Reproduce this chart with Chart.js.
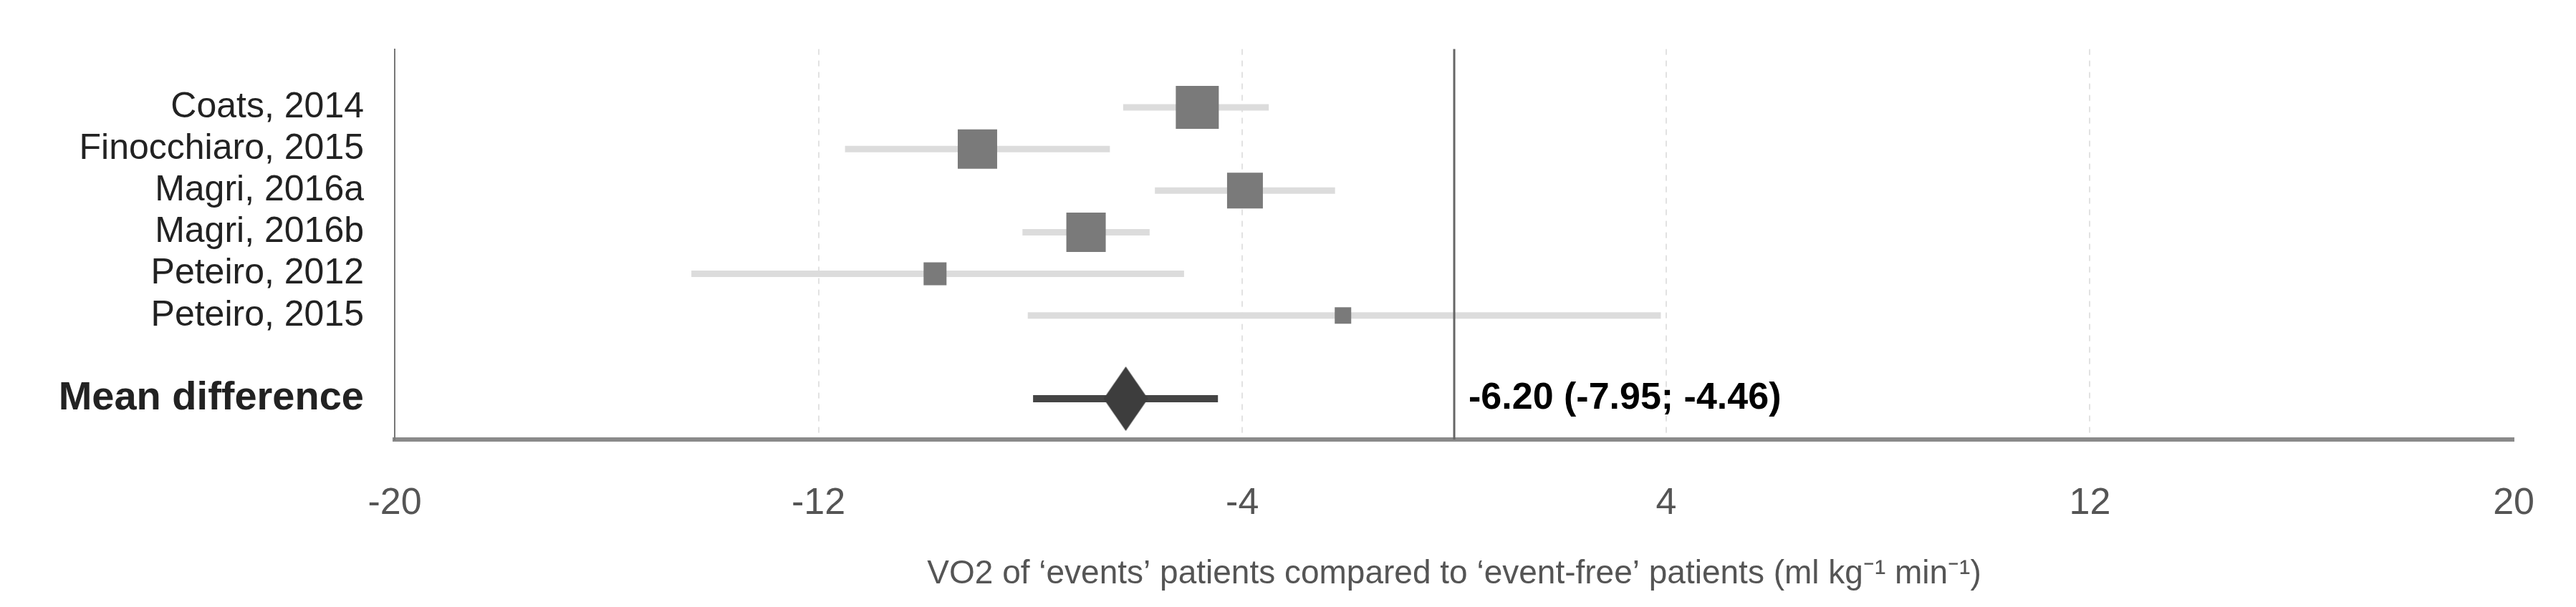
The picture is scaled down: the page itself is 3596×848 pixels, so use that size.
<!DOCTYPE html>
<html>
<head>
  <script src="https://cdn.jsdelivr.net/npm/chart.js@4"></script>
  <style>
    body { margin: 0; background: #fff; }
    #wrap { width: 3596px; height: 848px; }
  </style>
</head>
<body>
  <div id="wrap"><canvas id="forest"></canvas></div>
  <script>
    // study data (ml/kg/min)
    const studies = ['Coats, 2014', 'Finocchiaro, 2015', 'Magri, 2016a', 'Magri, 2016b', 'Peteiro, 2012', 'Peteiro, 2015'];
    const estimates = [-4.85, -9.0, -3.95, -6.95, -9.8, -2.1];
    const lower = [-6.25, -11.5, -5.65, -8.15, -14.4, -8.05];
    const upper = [-3.5, -6.5, -2.25, -5.75, -5.1, 3.9];
    const weights = [60, 55, 50, 55, 32, 23];
    const meanLabel = 'Mean difference';
    const meanValue = [-6.20, -7.95, -4.46];
    const xTicks = [-20, -12, -4, 4, 12, 20];
    const meanRow = 7;

    const datasets = [];
    studies.forEach((s, i) => {
      datasets.push({
        data: [{ x: lower[i], y: i }, { x: upper[i], y: i }],
        showLine: true, borderColor: '#dcdcdc', borderWidth: 9,
        pointRadius: 0, order: 2
      });
    });
    datasets.push({
      data: studies.map((s, i) => ({ x: estimates[i], y: i })),
      pointStyle: 'rect',
      pointRadius: weights.map(w => w / Math.SQRT2),
      backgroundColor: '#7a7a7a', borderWidth: 0, order: 1
    });
    datasets.push({
      data: [{ x: meanValue[1], y: meanRow }, { x: meanValue[2], y: meanRow }],
      showLine: true, borderColor: '#444', borderWidth: 10, pointRadius: 0, order: 2
    });

    // diamond marker
    const dia = document.createElement('canvas');
    dia.width = 62; dia.height = 90;
    const dc = dia.getContext('2d');
    dc.fillStyle = '#3d3d3d';
    dc.beginPath(); dc.moveTo(31, 0); dc.lineTo(62, 45); dc.lineTo(31, 90); dc.lineTo(0, 45); dc.closePath(); dc.fill();
    datasets.push({
      data: [{ x: meanValue[0], y: meanRow }],
      pointStyle: dia, pointRadius: 31, order: 0
    });

    const extras = {
      id: 'extras',
      afterDatasetsDraw(chart) {
        const { ctx, chartArea, scales } = chart;
        const x0 = scales.x.getPixelForValue(0);
        ctx.save();
        ctx.strokeStyle = '#666'; ctx.lineWidth = 3;
        ctx.beginPath(); ctx.moveTo(x0, chartArea.top); ctx.lineTo(x0, chartArea.bottom); ctx.stroke();
        ctx.fillStyle = '#000';
        ctx.font = 'bold 52px "Liberation Sans", Arial, sans-serif';
        ctx.textBaseline = 'middle';
        ctx.fillText(meanValue[0].toFixed(2) + ' (' + meanValue[1].toFixed(2) + '; ' + meanValue[2].toFixed(2) + ')',
          x0 + 20, scales.y.getPixelForValue(meanRow));
        ctx.restore();
      }
    };

    new Chart(document.getElementById('forest'), {
      type: 'scatter',
      data: { datasets },
      plugins: [extras],
      options: {
        responsive: true, maintainAspectRatio: false, animation: false,
        layout: { padding: { top: 0, right: 57, left: 0, bottom: 0 } },
        plugins: { legend: { display: false }, tooltip: { enabled: false } },
        scales: {
          x: {
            min: -20, max: 20,
            afterBuildTicks: s => { s.ticks = xTicks.map(v => ({ value: v })); },
            afterFit: s => { s.height = 234; },
            grid: {
              drawTicks: false,
              color: c => (c.tick && (c.tick.value === -20 || c.tick.value === 20)) ? 'rgba(0,0,0,0)' : '#e2e2e2',
              lineWidth: 2
            },
            border: { display: true, color: '#8a8a8a', width: 6, dash: [8, 8] },
            ticks: { color: '#555', padding: 58, font: { size: 52, family: '"Liberation Sans", Arial' } },
            title: {
              display: true, color: '#555', padding: { top: 36, bottom: 18 },
              font: { size: 46, family: '"Liberation Sans", Arial' },
              text: 'VO2 of \u2018events\u2019 patients compared to \u2018event-free\u2019 patients (ml kg\u207B\u00B9 min\u207B\u00B9)'
            }
          },
          y: {
            min: -1.4, max: 7.98, reverse: true,
            afterBuildTicks: s => { s.ticks = studies.map((n, i) => ({ value: i })).concat([{ value: meanRow }]); },
            afterFit: s => { s.width = 551; },
            grid: { display: false },
            border: { display: true, color: '#777', width: 2 },
            ticks: {
              padding: 35, color: '#222',
              callback: v => v === meanRow ? meanLabel : studies[v],
              font: c => ({ size: c.tick && c.tick.value === meanRow ? 56 : 50, weight: c.tick && c.tick.value === meanRow ? 'bold' : 'normal', family: '"Liberation Sans", Arial' })
            }
          }
        }
      }
    });
  </script>
</body>
</html>
